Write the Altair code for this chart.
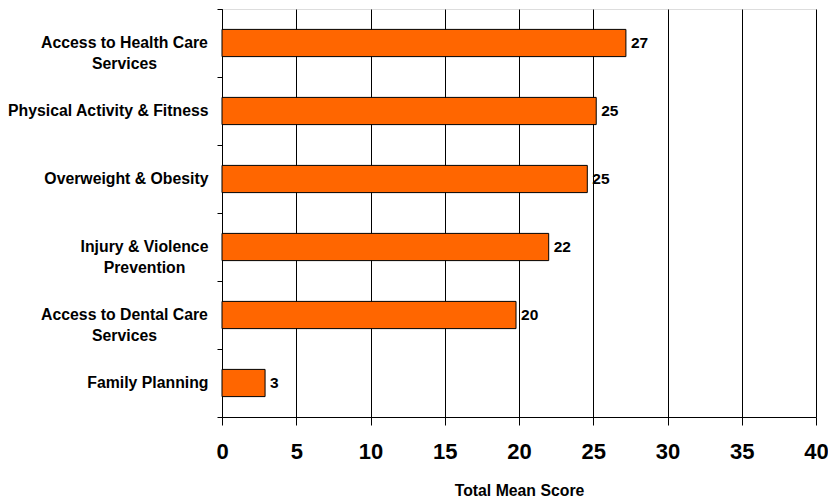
import altair as alt
import pandas as pd

categories = [
    "Access to Health Care Services",
    "Physical Activity & Fitness",
    "Overweight & Obesity",
    "Injury & Violence Prevention",
    "Access to Dental Care Services",
    "Family Planning",
]
scores = [27.2, 25.2, 24.6, 22.0, 19.8, 2.9]
x_ticks = [0, 5, 10, 15, 20, 25, 30, 35, 40]

df = pd.DataFrame({"category": categories, "score": scores})

FONT = "Liberation Sans"

label_expr = (
    "datum.label == 'Access to Health Care Services' ? ['Access to Health Care', 'Services'] : "
    "datum.label == 'Injury & Violence Prevention' ? ['Injury & Violence', 'Prevention'] : "
    "datum.label == 'Access to Dental Care Services' ? ['Access to Dental Care', 'Services'] : datum.label"
)

y_enc = alt.Y(
    "category:N",
    sort=categories,
    title=None,
    scale=alt.Scale(paddingInner=0, paddingOuter=0),
    axis=alt.Axis(
        labelExpr=label_expr,
        labelFont=FONT,
        labelFontSize=15.8,
        labelFontWeight="bold",
        labelColor="black",
        labelLineHeight=21,
        labelLimit=400,
        labelAlign={
            "condition": {
                "test": "indexof(['Access to Health Care Services','Access to Dental Care Services','Injury & Violence Prevention'], datum.value) >= 0",
                "value": "center",
            },
            "value": "right",
        },
        labelPadding={
            "condition": [
                {"test": "datum.value == 'Injury & Violence Prevention'", "value": 73},
                {
                    "test": "indexof(['Access to Health Care Services','Access to Dental Care Services'], datum.value) >= 0",
                    "value": 93,
                },
            ],
            "value": 9,
        },
        labelBaseline="middle",
        bandPosition=1,
        tickExtra=True,
        ticks=True,
        tickSize=5,
        tickColor="black",
        domainColor="black",
        grid=False,
    ),
)

x_enc = alt.X(
    "score:Q",
    title="Total Mean Score",
    scale=alt.Scale(domain=[0, 40], nice=False),
    axis=alt.Axis(
        values=x_ticks,
        labelFont=FONT,
        labelFontSize=22,
        labelFontWeight="bold",
        labelColor="black",
        labelPadding=16,
        labelFlush=False,
        tickSize=8,
        tickColor="black",
        domainColor="black",
        grid=True,
        gridColor="black",
        gridOpacity=1,
        gridWidth=1,
        titleFont=FONT,
        titleFontSize=15.8,
        titleFontWeight="bold",
        titleColor="black",
        titlePadding=21,
    ),
)

bars = alt.Chart(df).mark_bar(
    color="#FF6600", stroke="black", strokeWidth=1, height={"band": 0.4}
).encode(x=x_enc, y=y_enc)

labels = alt.Chart(df).mark_text(
    align="left", baseline="middle", dx=5, font=FONT, fontSize=15.5, fontWeight="bold", color="black"
).encode(
    x=alt.X("score:Q"),
    y=alt.Y("category:N", sort=categories),
    text=alt.Text("score:Q", format=".0f"),
)

chart = (
    alt.layer(bars, labels)
    .properties(
        width=594,
        height=408,
        autosize=alt.AutoSizeParams(type="none"),
        padding={"left": 214, "top": 1, "right": 12, "bottom": 80},
    )
    .configure_view(stroke="black", strokeWidth=1)
    .configure(background="white")
)

chart.save("out.html", embed_options={"renderer": "svg", "actions": False})
